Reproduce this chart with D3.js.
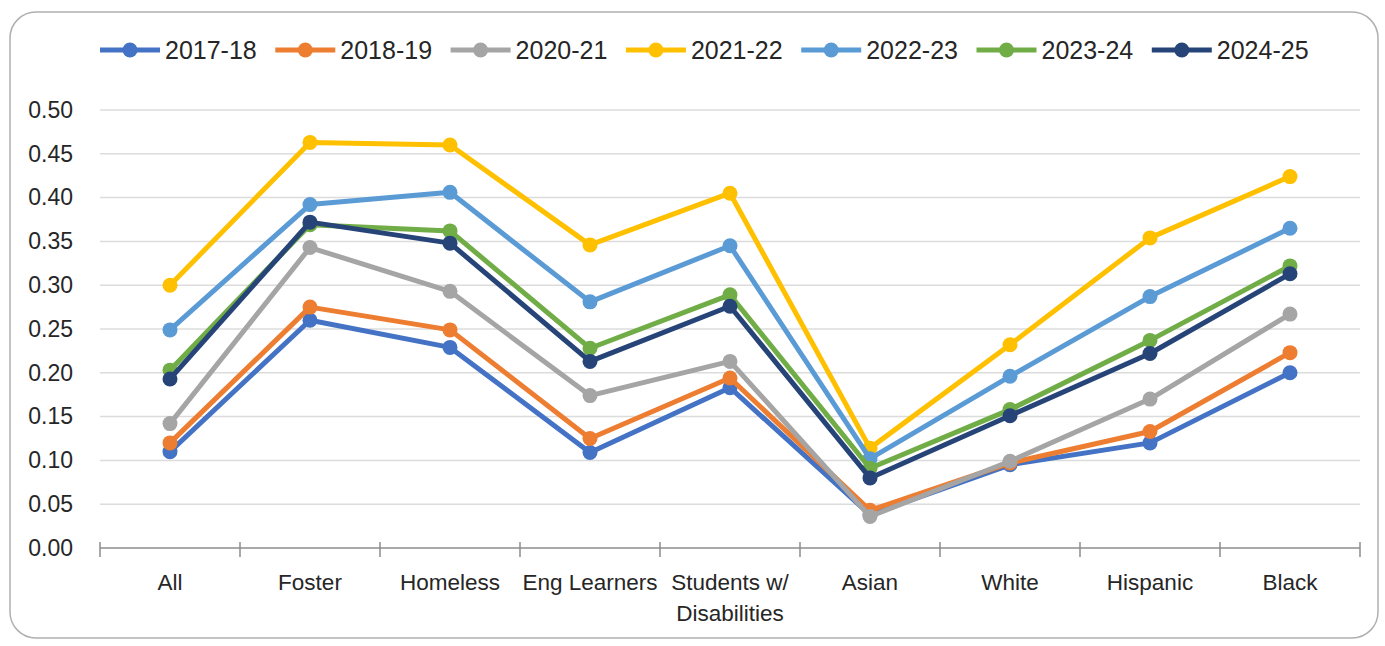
<!DOCTYPE html>
<html>
<head>
<meta charset="utf-8">
<script src="https://cdn.jsdelivr.net/npm/d3@7"></script>
<style>
  body { margin: 0; background: #fff; }
  svg { display: block; font-family: "Liberation Sans Narrow", "Liberation Sans", Arial, sans-serif; }
</style>
</head>
<body>
<svg id="chart" width="1385" height="646"></svg>
<script>
// categories and series
const categories = ["All", "Foster", "Homeless", "Eng Learners", "Students w/ Disabilities",
  "Asian", "White", "Hispanic", "Black"];

const years = ["2017-18", "2018-19", "2020-21", "2021-22", "2022-23", "2023-24", "2024-25"];
const colors = ["#4472C4", "#ED7D31", "#A5A5A5", "#FFC000", "#5B9BD5", "#70AD47", "#264478"];

const v2017 = [0.110, 0.260, 0.229, 0.109, 0.183, 0.038, 0.095, 0.120, 0.200];
const v2018 = [0.120, 0.275, 0.249, 0.125, 0.194, 0.043, 0.097, 0.133, 0.223];
const v2020 = [0.142, 0.343, 0.293, 0.174, 0.213, 0.036, 0.099, 0.170, 0.267];
const v2021 = [0.300, 0.463, 0.460, 0.346, 0.405, 0.114, 0.232, 0.354, 0.424];
const v2022 = [0.249, 0.392, 0.406, 0.281, 0.345, 0.102, 0.196, 0.287, 0.365];
const v2023 = [0.203, 0.369, 0.362, 0.228, 0.289, 0.091, 0.158, 0.237, 0.322];
const v2024 = [0.193, 0.372, 0.348, 0.213, 0.276, 0.080, 0.151, 0.222, 0.313];

const yTicks = [0, 0.05, 0.10, 0.15, 0.20, 0.25, 0.30, 0.35, 0.40, 0.45, 0.50];

const series = [v2017, v2018, v2020, v2021, v2022, v2023, v2024].map((vals, i) => ({
  name: years[i],
  color: colors[i],
  values: vals
}));

const svg = d3.select("#chart");

// outer frame
svg.append("rect")
  .attr("x", 10).attr("y", 12)
  .attr("width", 1368).attr("height", 626)
  .attr("rx", 26).attr("ry", 26)
  .attr("fill", "#fff")
  .attr("stroke", "#b0b0b0")
  .attr("stroke-width", 1.5);

const plotLeft = 100, plotRight = 1360, plotTop = 110, plotBottom = 548;

const x = d3.scaleBand()
  .domain(categories)
  .range([plotLeft, plotRight]);

const y = d3.scaleLinear()
  .domain([0, 0.5])
  .range([plotBottom, plotTop]);

// gridlines
svg.append("g")
  .selectAll("line")
  .data(yTicks.filter(d => d > 0))
  .enter().append("line")
  .attr("x1", plotLeft).attr("x2", plotRight)
  .attr("y1", d => y(d)).attr("y2", d => y(d))
  .attr("stroke", "#dcdcdc")
  .attr("stroke-width", 1.5);

// y axis labels
const yAxis = svg.append("g")
  .attr("transform", `translate(${plotLeft},0)`)
  .call(d3.axisLeft(y).tickValues(yTicks).tickFormat(d3.format(".2f")).tickSize(0).tickPadding(27));
yAxis.select(".domain").remove();
yAxis.selectAll("text")
  .attr("font-size", 23)
  .attr("fill", "#262626")
  .attr("font-family", "Liberation Sans, Arial, sans-serif");

// x axis
const xAxis = svg.append("g")
  .attr("transform", `translate(0,${plotBottom})`);
xAxis.append("line")
  .attr("x1", plotLeft).attr("x2", plotRight)
  .attr("stroke", "#8c8c8c").attr("stroke-width", 1.5);
const bounds = categories.map(c => x(c)).concat([plotRight]);
xAxis.selectAll(".tick")
  .data(bounds)
  .enter().append("line")
  .attr("x1", d => d).attr("x2", d => d)
  .attr("y1", -6).attr("y2", 9)
  .attr("stroke", "#8c8c8c").attr("stroke-width", 1.5);

const labels = xAxis.selectAll(".lbl")
  .data(categories)
  .enter().append("text")
  .attr("x", d => x(d) + x.bandwidth() / 2)
  .attr("y", 42)
  .attr("text-anchor", "middle")
  .attr("font-size", 22.5)
  .attr("fill", "#262626");
labels.each(function(d) {
  const t = d3.select(this);
  const parts = d === "Students w/ Disabilities" ? ["Students w/", "Disabilities"] : [d];
  parts.forEach((p, i) => {
    t.append("tspan")
      .attr("x", x(d) + x.bandwidth() / 2)
      .attr("dy", i === 0 ? 0 : 31)
      .text(p);
  });
});

// lines and markers
const line = d3.line()
  .x((d, i) => x(categories[i]) + x.bandwidth() / 2)
  .y(d => y(d));

const g = svg.append("g");
series.forEach(s => {
  g.append("path")
    .datum(s.values)
    .attr("d", line)
    .attr("fill", "none")
    .attr("stroke", s.color)
    .attr("stroke-width", 5)
    .attr("stroke-linejoin", "round");
  g.selectAll(null)
    .data(s.values)
    .enter().append("circle")
    .attr("cx", (d, i) => x(categories[i]) + x.bandwidth() / 2)
    .attr("cy", d => y(d))
    .attr("r", 7.5)
    .attr("fill", s.color);
});

// legend
const legend = svg.append("g").attr("transform", "translate(100,50)");
const item = legend.selectAll("g")
  .data(series)
  .enter().append("g")
  .attr("transform", (d, i) => `translate(${i * 175.3},0)`);
item.append("line")
  .attr("x1", 0).attr("x2", 60)
  .attr("stroke", d => d.color)
  .attr("stroke-width", 5);
item.append("circle")
  .attr("cx", 30).attr("r", 7.5)
  .attr("fill", d => d.color);
item.append("text")
  .attr("x", 65).attr("y", 9)
  .attr("font-size", 25)
  .attr("fill", "#262626")
  .text(d => d.name);
</script>
</body>
</html>
